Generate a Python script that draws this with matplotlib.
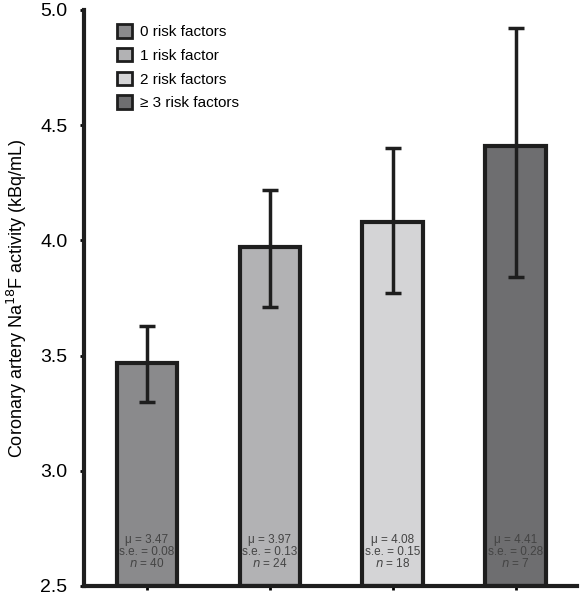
import matplotlib
matplotlib.use("Agg")
import matplotlib.pyplot as plt
from matplotlib.patches import Patch

plt.rcParams['font.family'] = ['Liberation Sans', 'DejaVu Sans']

categories = ["0 risk factors", "1 risk factor", "2 risk factors", "\u2265 3 risk factors"]
means = [3.47, 3.97, 4.08, 4.41]
se = [0.08, 0.13, 0.15, 0.28]
n = [40, 24, 18, 7]
ci_lower = [3.30, 3.71, 3.77, 3.84]
ci_upper = [3.63, 4.22, 4.40, 4.92]
colors = ["#8a8a8c", "#b2b2b4", "#d4d4d6", "#6e6e70"]
yticks = [2.5, 3.0, 3.5, 4.0, 4.5, 5.0]

fig = plt.figure(figsize=(5.8, 6.0), dpi=100)
ax = fig.add_axes([84/580, 14/600, (577-84)/580, 576/600])

x = list(range(len(means)))
edge = "#1e1e1e"
ax.bar(x, [m - 2.5 for m in means], bottom=2.5, width=0.49, color=colors,
       edgecolor=edge, linewidth=3, zorder=2)
yerr = [[m - l for m, l in zip(means, ci_lower)], [u - m for m, u in zip(means, ci_upper)]]
ax.errorbar(x, means, yerr=yerr, fmt='none', ecolor=edge, elinewidth=2.5,
            capsize=6, capthick=2.5, zorder=3)

for xi, m, s, k in zip(x, means, se, n):
    ax.text(xi, 2.70, f"\u03bc = {m:.2f}", ha='center', va='center', fontsize=8.5, color="#444444", zorder=4)
    ax.text(xi, 2.648, f"s.e. = {s:.2f}", ha='center', va='center', fontsize=8.5, color="#444444", zorder=4)
    ax.text(xi, 2.596, f"$n$ = {k}", ha='center', va='center', fontsize=8.5, color="#444444", zorder=4)

ax.set_xlim(-0.51, 3.5)
ax.set_ylim(2.5, 5.0)
ax.set_yticks(yticks)
ax.set_yticklabels([f"{t:.1f}" for t in yticks])
ax.set_xticks(x)
ax.set_xticklabels([])
ax.tick_params(axis='y', direction='out', length=3, width=2, labelsize=14, pad=9)
ax.tick_params(axis='x', direction='out', length=3, width=2)
for side in ['top', 'right']:
    ax.spines[side].set_visible(False)
for side in ['left', 'bottom']:
    ax.spines[side].set_linewidth(3)
    ax.spines[side].set_color(edge)

ax.set_ylabel("Coronary artery Na$^{18}$F activity (kBq/mL)", fontsize=13, labelpad=8)

handles = [Patch(facecolor=c, edgecolor=edge, linewidth=2) for c in colors]
ax.legend(handles, categories, loc='upper left', bbox_to_anchor=(0.04, 0.999),
          frameon=False, fontsize=11, handlelength=0.95, handleheight=0.95,
          handletextpad=0.5, labelspacing=0.58)

fig.savefig("out.png", dpi=100)
